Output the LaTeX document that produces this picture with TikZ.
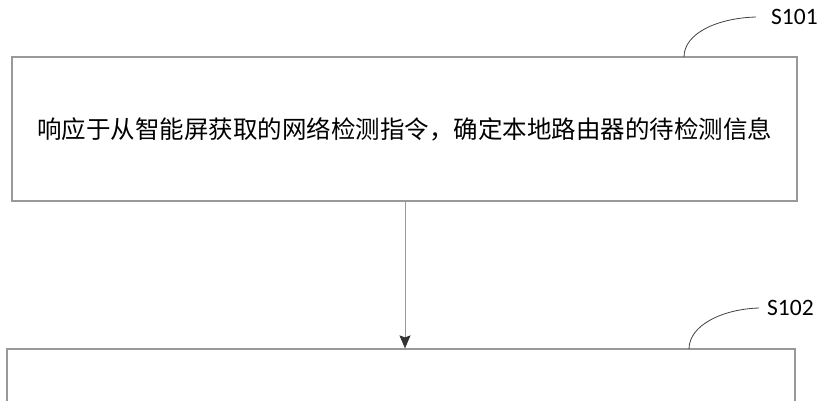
\documentclass[tikz,border=0pt]{standalone}
\usepackage{fontspec}
\setmainfont{Carlito}
\newfontfamily\cjk{Noto Sans CJK SC}
\usetikzlibrary{arrows.meta,calc}

\tikzset{
  stepbox/.style={draw=black!40, line width=1.2pt, minimum width=785pt, minimum height=144pt, inner sep=0pt},
  steplabel/.style={anchor=west, inner sep=0pt, font=\fontsize{23.5pt}{24pt}\selectfont},
  leader/.style={draw=black!75, line width=0.8pt},
}

\begin{document}
\begin{tikzpicture}[x=1pt,y=-1pt,>=Latex]
\useasboundingbox (0,0) rectangle (827,400);

\node[stepbox, font=\cjk\fontsize{24.5pt}{26pt}\selectfont] (s1) at (404.5,129) {响应于从智能屏获取的网络检测指令，确定本地路由器的待检测信息};
\node[stepbox, minimum width=788pt] (s2) at (401,421) {};

\draw[draw=black!40, line width=0.9pt, -{Stealth[length=13pt,width=11pt,inset=2pt,black!80]}] (s1.south -| 405,0) -- (405,0 |- s2.north);

\node[steplabel] (l1) at (771,17) {S101};
\node[steplabel] (l2) at (767,308) {S102};

\coordinate (c1) at (684,57);
\coordinate (c2) at (689,349);
\draw[leader] (c1) .. controls (684,33) and (718,18) .. ($(l1.west)+(-15,0)$);
\draw[leader] (c2) .. controls (689,325) and (723,309) .. ($(l2.west)+(-8,0)$);

\end{tikzpicture}
\end{document}
